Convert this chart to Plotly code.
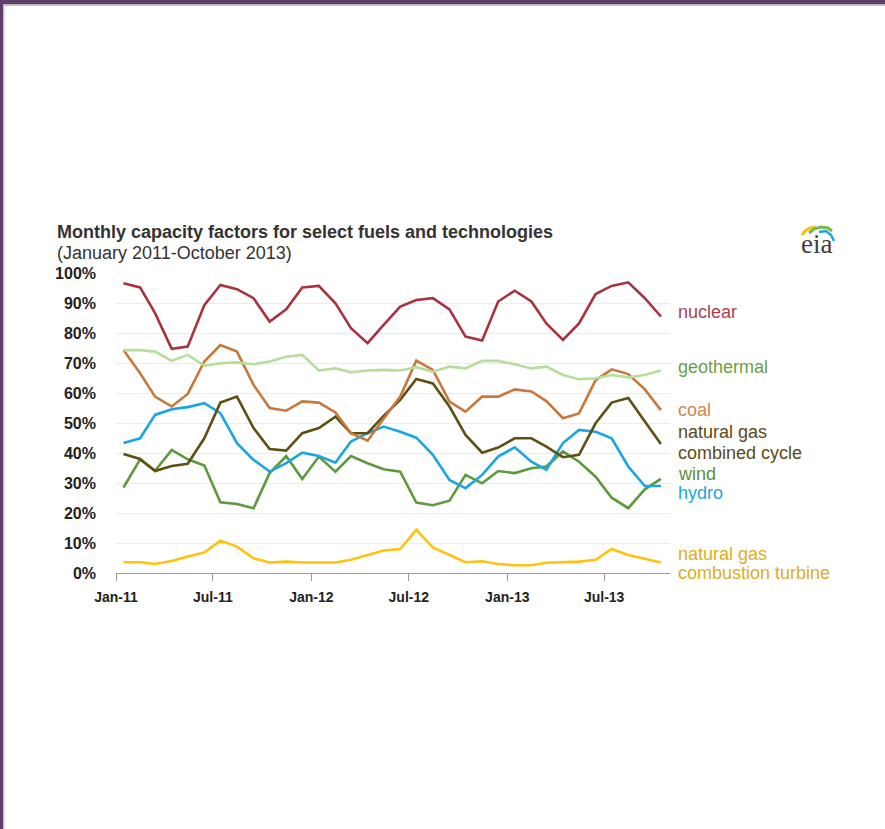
import plotly.graph_objects as go

W, H = 885, 829

months = [f"{y}-{m:02d}-15" for y in (2011, 2012, 2013) for m in range(1, 13)][:34]

nuclear = [96.7, 95.3, 86.7, 74.8, 75.6, 89.4, 96.1, 94.7, 91.7, 83.9, 88.0, 95.3,
           95.8, 90.0, 81.7, 76.7, 82.8, 88.9, 91.1, 91.7, 88.0, 78.9, 77.6, 90.6,
           94.2, 90.6, 83.3, 77.8, 83.3, 93.1, 95.8, 97.0, 91.7, 85.6]
geothermal = [74.4, 74.4, 73.9, 70.8, 72.8, 69.2, 70.0, 70.3, 69.7, 70.6, 72.2, 72.8,
              67.6, 68.3, 67.0, 67.6, 67.8, 67.6, 68.7, 67.2, 68.9, 68.3, 70.8, 70.8,
              69.7, 68.3, 68.9, 66.1, 64.7, 65.0, 66.1, 65.3, 66.1, 67.6]
coal = [74.4, 66.7, 58.9, 55.6, 59.8, 70.6, 76.1, 73.9, 62.8, 55.1, 54.2, 57.3,
        56.9, 53.6, 46.7, 44.2, 51.5, 58.9, 70.9, 67.8, 57.2, 53.9, 58.9, 58.9,
        61.3, 60.6, 57.4, 51.7, 53.3, 64.4, 68.0, 66.4, 61.3, 54.4]
ngcc = [39.8, 38.1, 34.1, 35.8, 36.5, 45.0, 56.9, 58.9, 48.4, 41.4, 40.9, 46.7,
        48.4, 52.2, 46.7, 46.7, 52.5, 57.8, 64.8, 63.3, 55.6, 46.1, 40.2, 41.9,
        45.0, 45.0, 42.2, 38.7, 39.5, 50.0, 56.9, 58.4, 50.6, 43.1]
hydro = [43.4, 45.0, 52.8, 54.7, 55.4, 56.7, 53.4, 43.4, 37.8, 33.9, 36.7, 40.2,
         39.1, 36.9, 43.9, 46.7, 48.9, 47.2, 45.2, 39.5, 31.1, 28.4, 32.8, 38.9,
         42.0, 37.2, 34.5, 43.4, 47.8, 47.2, 45.0, 35.6, 29.1, 29.1]
wind = [28.6, 38.0, 34.2, 41.1, 38.0, 35.9, 23.7, 23.1, 21.7, 33.4, 39.1, 31.4,
        38.9, 33.9, 39.1, 36.7, 34.7, 33.9, 23.6, 22.7, 24.2, 32.8, 30.0, 34.1,
        33.4, 35.0, 35.6, 40.6, 37.2, 32.2, 25.2, 21.7, 28.0, 31.5]
ng_ct = [3.7, 3.7, 3.1, 4.1, 5.6, 6.9, 10.9, 8.9, 5.0, 3.6, 3.9, 3.6,
         3.6, 3.6, 4.5, 6.1, 7.6, 8.1, 14.5, 8.6, 6.1, 3.7, 4.0, 3.1,
         2.7, 2.7, 3.5, 3.6, 3.9, 4.5, 8.1, 6.1, 4.8, 3.6]

tick_vals = ["2011-01-01", "2011-07-01", "2012-01-01", "2012-07-01", "2013-01-01", "2013-07-01"]
tick_text = ["<b>Jan-11</b>", "<b>Jul-11</b>", "<b>Jan-12</b>", "<b>Jul-12</b>",
             "<b>Jan-13</b>", "<b>Jul-13</b>"]
y_ticks = list(range(0, 101, 10))
y_text = [f"<b>{v}%</b>" for v in y_ticks]

series = [
    ("wind", wind, "#5c9a3c"),
    ("ng_ct", ng_ct, "#ffc20e"),
    ("hydro", hydro, "#1ba5e1"),
    ("ngcc", ngcc, "#5f4f14"),
    ("coal", coal, "#c8783c"),
    ("geothermal", geothermal, "#b6dd9c"),
    ("nuclear", nuclear, "#a8323f"),
]

# label text, y value (data units), colour
labels = [
    ("nuclear", 87.2, "#a73f52"),
    ("geothermal", 68.9, "#6a9f45"),
    ("coal", 54.4, "#d0864a"),
    ("natural gas", 47.2, "#5a4a14"),
    ("combined cycle", 40.2, "#5a4a14"),
    ("wind", 33.2, "#5e8d34"),
    ("hydro", 26.8, "#1ba5e1"),
    ("natural gas", 6.6, "#dcae22"),
    ("combustion turbine", 0.0, "#dcae22"),
]

FONT = "Liberation Sans, Arial, sans-serif"

fig = go.Figure()
for name, vals, col in series:
    fig.add_trace(go.Scatter(x=months, y=vals, mode="lines", name=name,
                             line=dict(color=col, width=2.6), hoverinfo="skip"))

x0, x1 = 116 / W, 670 / W
y0, y1 = 1 - 573.3 / H, 1 - 273.3 / H

fig.update_layout(
    width=W, height=H,
    margin=dict(l=0, r=0, t=0, b=0),
    paper_bgcolor="white", plot_bgcolor="white",
    showlegend=False,
    font=dict(family=FONT, color="#333333"),
    xaxis=dict(domain=[x0, x1], type="date", range=["2011-01-01", "2013-11-01"],
               tickvals=tick_vals, ticktext=tick_text, showgrid=False,
               showline=True, linecolor="#9a9a9a", linewidth=1.3,
               ticks="outside", ticklen=7, tickcolor="#9a9a9a", tickwidth=1.3,
               ticklabelstandoff=4,
               tickfont=dict(size=14, color="#222222", family=FONT),
               zeroline=False, fixedrange=True, automargin=False),
    yaxis=dict(domain=[y0, y1], range=[0, 100], tickvals=y_ticks, ticktext=y_text,
               showgrid=True, gridcolor="#ececec", gridwidth=1, zeroline=False,
               showline=False, ticks="", ticklabelstandoff=19,
               tickfont=dict(size=16, color="#222222", family=FONT),
               fixedrange=True, automargin=False),
)

for text, yv, col in labels:
    fig.add_annotation(x=676 / W, xref="paper", y=yv, yref="y", text=text,
                       showarrow=False, xanchor="left", yanchor="middle",
                       font=dict(size=18, color=col, family=FONT))

# Title and subtitle
fig.add_annotation(x=55 / W, y=1 - 232 / H, xref="paper", yref="paper",
                   text="<b>Monthly capacity factors for select fuels and technologies</b>",
                   showarrow=False, xanchor="left", yanchor="middle",
                   font=dict(size=18, color="#333333", family=FONT))
fig.add_annotation(x=55 / W, y=1 - 253 / H, xref="paper", yref="paper",
                   text="(January 2011-October 2013)",
                   showarrow=False, xanchor="left", yanchor="middle",
                   font=dict(size=18, color="#333333", family=FONT))

# eia logo
fig.add_annotation(x=816 / W, y=1 - 244 / H, xref="paper", yref="paper",
                   text="eia", showarrow=False, xanchor="center", yanchor="middle",
                   font=dict(size=27, color="#404040", family="Liberation Serif, Times New Roman, serif"))


def px(x, y):
    return f"{x / W:.5f}", f"{1 - y / H:.5f}"


def pix_path(coords, col, width):
    p = ""
    for i, (xx, yy) in enumerate(coords):
        a, b = px(xx, yy)
        p += ("M " if i == 0 else " L ") + f"{a} {b}"
    fig.add_shape(type="path", xref="paper", yref="paper", path=p,
                  line=dict(color=col, width=width))


pix_path([(802, 235), (805, 231), (810, 228), (816, 227)], "#f5c518", 3)
pix_path([(809, 233), (814, 229), (821, 227), (828, 228), (832, 231)], "#7ab648", 3)
pix_path([(819, 232), (826, 231), (831, 235), (834, 241)], "#1ba5e1", 2.5)

# frame: purple top bar and left bar with light grey inner lines
fig.add_shape(type="rect", xref="paper", yref="paper", x0=0, x1=1, y0=1 - 4.5 / H, y1=1,
              fillcolor="#5e3e6a", line=dict(width=0), layer="above")
fig.add_shape(type="rect", xref="paper", yref="paper", x0=0, x1=3 / W, y0=0, y1=1,
              fillcolor="#5e3e6a", line=dict(width=0), layer="above")
fig.add_shape(type="rect", xref="paper", yref="paper", x0=3 / W, x1=1, y0=1 - 6 / H, y1=1 - 4.5 / H,
              fillcolor="#c8c0cc", line=dict(width=0), layer="above")
fig.add_shape(type="rect", xref="paper", yref="paper", x0=3 / W, x1=4.5 / W, y0=0, y1=1 - 4.5 / H,
              fillcolor="#c8c0cc", line=dict(width=0), layer="above")

fig.write_html("out.html")
